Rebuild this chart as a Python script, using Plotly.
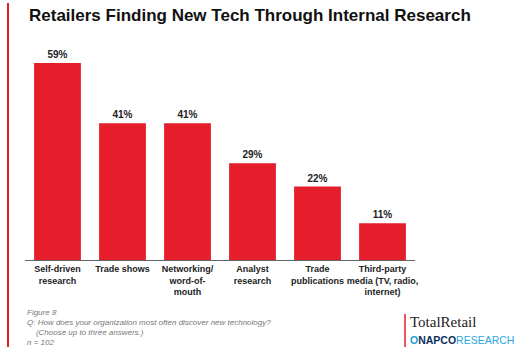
import plotly.graph_objects as go

categories = ["Self-driven<br>research", "Trade shows", "Networking/<br>word-of-<br>mouth",
              "Analyst<br>research", "Trade<br>publications", "Third-party<br>media (TV, radio,<br>internet)"]
values = [59, 41, 41, 29, 22, 11]
value_labels = ["<b>59%</b>", "<b>41%</b>", "<b>41%</b>", "<b>29%</b>", "<b>22%</b>", "<b>11%</b>"]

RED = "#e61e2b"
W, H = 520, 353

fig = go.Figure(go.Bar(
    x=list(range(len(values))), y=values,
    marker=dict(color=RED, line=dict(width=0)),
    width=0.72,
    text=value_labels, textposition="outside",
    textfont=dict(family="Arial, sans-serif", size=10, color="#222"),
    cliponaxis=False,
))

fig.update_layout(
    width=W, height=H,
    margin=dict(l=25, r=105, t=40, b=93),
    paper_bgcolor="white", plot_bgcolor="white",
    showlegend=False,
    xaxis=dict(range=[-0.5, 5.5], tickmode="array", tickvals=list(range(6)),
               ticktext=["<b>" + c + "</b>" for c in categories],
               showline=True, linecolor="#666", linewidth=1, showgrid=False, ticks="",
               tickfont=dict(family="Arial, sans-serif", size=9, color="#222"), fixedrange=True),
    yaxis=dict(range=[0, 65.9], visible=False, showgrid=False, fixedrange=True),
    font=dict(family="Arial, sans-serif"),
)

# left red rule
fig.add_shape(type="line", xref="paper", yref="paper", x0=-17/390, x1=-17/390,
              y0=(260 - 3) / 220, y1=(260 - 347) / 220,
              line=dict(color=RED, width=2))

fig.add_annotation(text="<b>Retailers Finding New Tech Through Internal Research</b>",
                   xref="paper", yref="paper", x=2/390, y=(260 - 15) / 220,
                   xanchor="left", yanchor="middle", showarrow=False,
                   font=dict(family="Arial, sans-serif", size=17, color="#111"))

notes = ["<i>Figure 8</i>",
         "<i>Q: How does your organization most often discover new technology?</i>",
         "<i>&nbsp;&nbsp;&nbsp;&nbsp;(Choose up to three answers.)</i>",
         "<i>n = 102</i>"]
ys = [312, 322, 332, 342]
for t, yy in zip(notes, ys):
    fig.add_annotation(text=t, xref="paper", yref="paper",
                       x=0, y=(260 - yy) / 220, xanchor="left", yanchor="middle",
                       showarrow=False, font=dict(family="Arial, sans-serif", size=8, color="#777"))

# logo
fig.add_shape(type="line", xref="paper", yref="paper", x0=(405 - 25) / 390, x1=(405 - 25) / 390,
              y0=(260 - 314) / 220, y1=(260 - 347) / 220, line=dict(color=RED, width=1.5))
fig.add_annotation(text="TotalRetail", xref="paper", yref="paper", x=(408 - 25) / 390, y=(260 - 322) / 220,
                   xanchor="left", yanchor="middle", showarrow=False,
                   font=dict(family="Liberation Serif, Times New Roman, serif", size=15, color="#222"))
fig.add_annotation(text="<b><span style='color:#1a9ad6'>O</span>NAPCO</b><span style='color:#2aa7e0'>RESEARCH</span>",
                   xref="paper", yref="paper", x=(408 - 25) / 390, y=(260 - 340) / 220,
                   xanchor="left", yanchor="middle", showarrow=False,
                   font=dict(family="Arial, sans-serif", size=10.5, color="#0d2f5c"))

fig.write_html("out.html")
